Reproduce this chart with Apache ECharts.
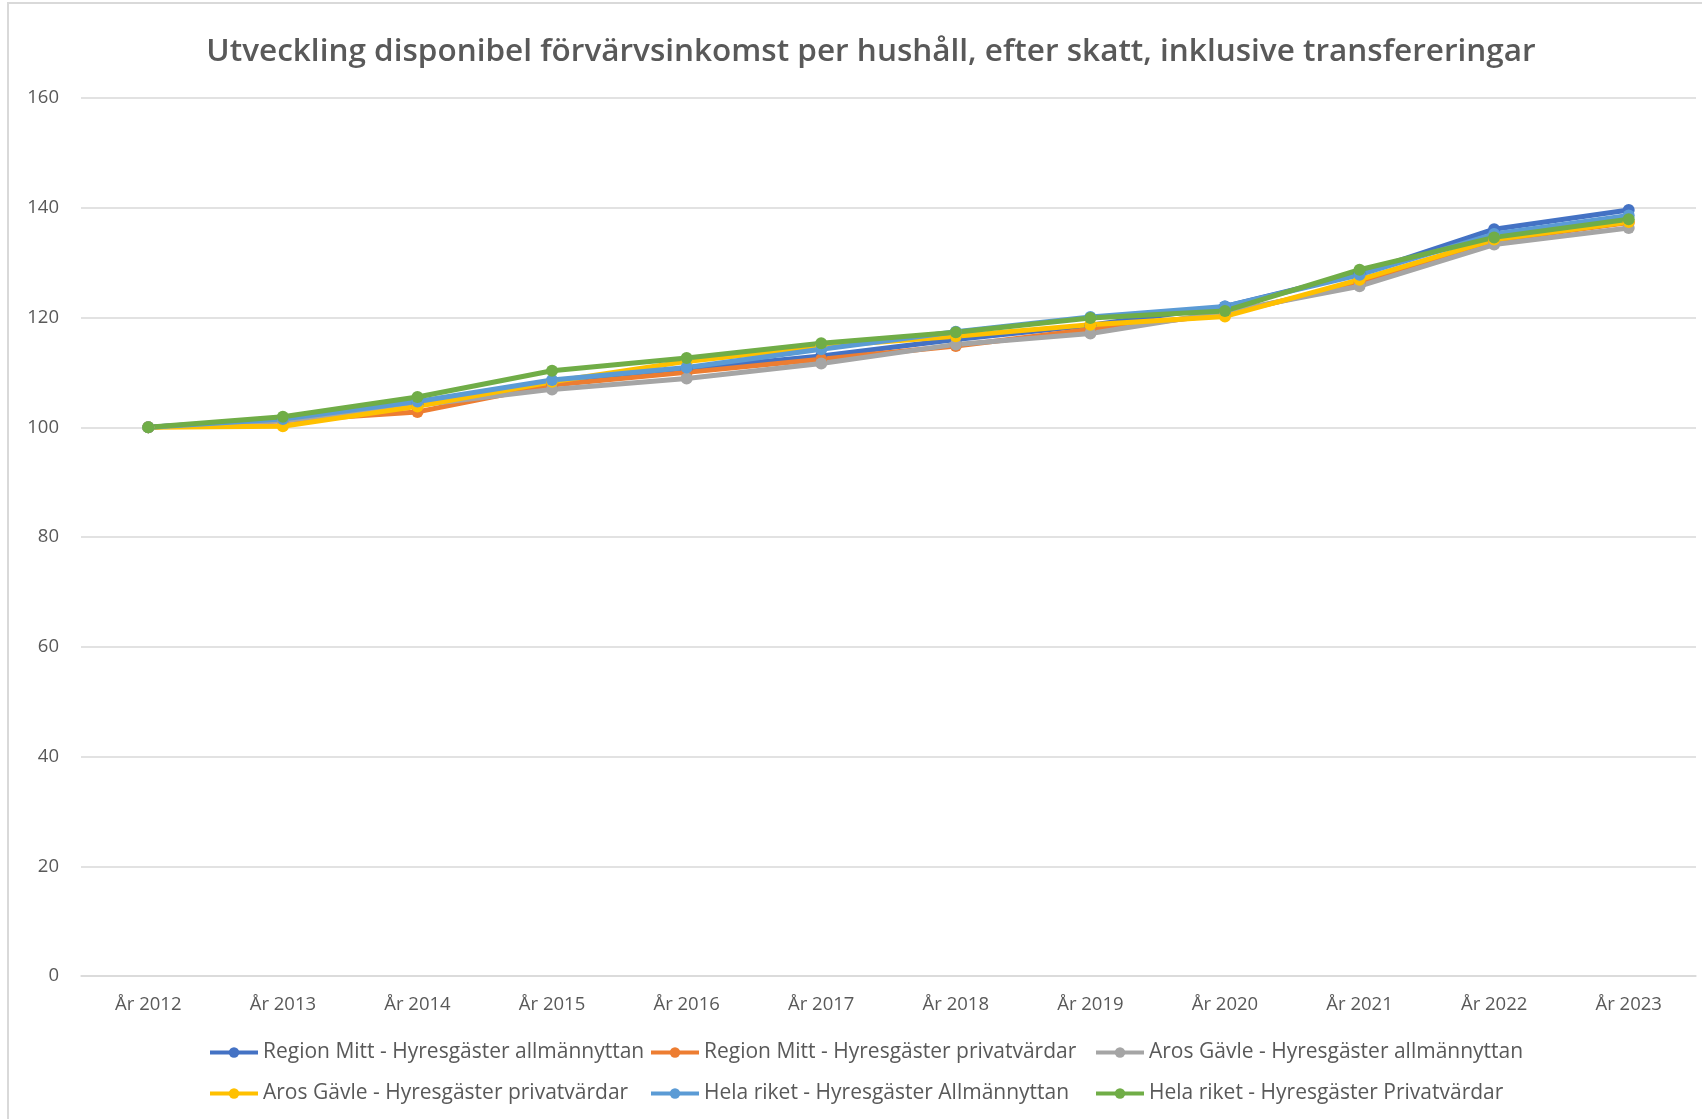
<!DOCTYPE html>
<html>
<head>
<meta charset="utf-8">
<script src="https://cdn.jsdelivr.net/npm/echarts@6/dist/echarts.min.js"></script>
<style>
  html, body { margin: 0; padding: 0; background: #fff; }
  #chart { width: 1702px; height: 1119px; }
</style>
</head>
<body>
<div id="chart"></div>
<script>
// kategorier (x-axel)
var years = ["År 2012", "År 2013", "År 2014", "År 2015", "År 2016", "År 2017",
             "År 2018", "År 2019", "År 2020", "År 2021", "År 2022", "År 2023"];

var seriesNames = [
  "Region Mitt - Hyresgäster allmännyttan",
  "Region Mitt - Hyresgäster privatvärdar",
  "Aros Gävle - Hyresgäster allmännyttan",
  "Aros Gävle - Hyresgäster privatvärdar",
  "Hela riket - Hyresgäster Allmännyttan",
  "Hela riket - Hyresgäster Privatvärdar"
];

var regionMittAllm = [100, 101.4, 104.2, 108.2, 110.6, 113.0, 116.0, 118.6, 122.0, 128.0, 136.1, 139.6];
var regionMittPriv = [100, 101.2, 102.8, 107.7, 110.0, 112.4, 114.8, 117.8, 120.6, 126.3, 134.0, 137.3];
var arosAllm       = [100, 101.2, 104.0, 106.9, 108.9, 111.6, 115.1, 117.1, 121.0, 125.7, 133.3, 136.3];
var arosPriv       = [100, 100.2, 103.8, 108.3, 112.0, 114.7, 116.6, 118.7, 120.2, 126.9, 134.2, 137.4];
var helaAllm       = [100, 101.5, 104.7, 108.6, 110.9, 114.2, 117.4, 120.1, 122.0, 127.8, 135.2, 138.6];
var helaPriv       = [100, 101.9, 105.5, 110.3, 112.6, 115.3, 117.3, 119.9, 121.2, 128.7, 134.6, 137.9];

var allValues = [regionMittAllm, regionMittPriv, arosAllm, arosPriv, helaAllm, helaPriv];
var colors = ["#4472C4", "#ED7D31", "#A5A5A5", "#FFC000", "#5B9BD5", "#70AD47"];

var fontName = "Open Sans";
var textColor = "#595959";

var chart = echarts.init(document.getElementById("chart"));

var series = seriesNames.map(function (name, i) {
  return {
    name: name,
    type: "line",
    data: allValues[i],
    symbol: "circle",
    symbolSize: 12,
    color: colors[i],
    lineStyle: { width: 5, color: colors[i] },
    itemStyle: { color: colors[i] },
    emphasis: { disabled: true },
    animation: false
  };
});

// tre kolumner i legenden, som i Excel
function legendCol(left, names) {
  return {
    orient: "vertical",
    left: left,
    top: 1037,
    itemGap: 20,
    itemWidth: 48,
    itemHeight: 13,
    lineStyle: { width: 4 },
    data: names,
    textStyle: { fontFamily: fontName, fontSize: 21, color: textColor }
  };
}

var option = {
  backgroundColor: "#fff",
  title: {
    text: "Utveckling disponibel förvärvsinkomst per hushåll, efter skatt, inklusive transfereringar",
    left: 866,
    textAlign: "center",
    top: 31,
    textStyle: { fontFamily: fontName, fontSize: 31.5, fontWeight: 600, color: textColor }
  },
  graphic: [{
    type: "rect",
    shape: { x: 8, y: 3, width: 1800, height: 1200 },
    style: { fill: "none", stroke: "#d9d9d9", lineWidth: 2 },
    silent: true
  }],
  legend: [
    legendCol(203, [seriesNames[0], seriesNames[3]]),
    legendCol(644, [seriesNames[1], seriesNames[4]]),
    legendCol(1089, [seriesNames[2], seriesNames[5]])
  ],
  grid: { left: 81, right: 6, top: 98, bottom: 143 },
  xAxis: {
    type: "category",
    data: years,
    boundaryGap: true,
    axisLine: { show: true, lineStyle: { color: "#d9d9d9", width: 1.5 } },
    axisTick: { show: false },
    axisLabel: { fontFamily: fontName, fontSize: 18.5, color: textColor, margin: 19 }
  },
  yAxis: {
    type: "value",
    min: 0,
    max: 160,
    interval: 20,
    axisLine: { show: false },
    axisTick: { show: false },
    axisLabel: { fontFamily: fontName, fontSize: 18.5, color: textColor, margin: 22 },
    splitLine: { lineStyle: { color: "#d9d9d9", width: 1.5 } }
  },
  series: series
};

chart.setOption(option);
</script>
</body>
</html>
